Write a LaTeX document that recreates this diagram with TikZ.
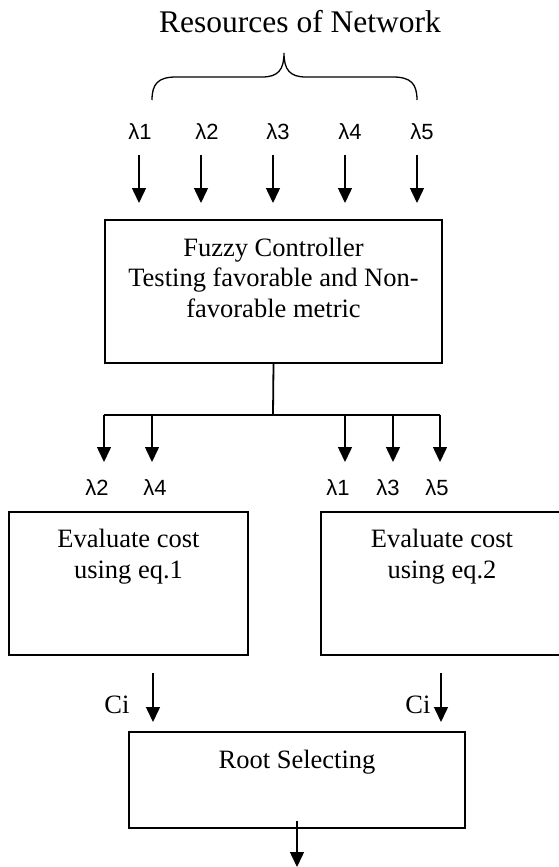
\documentclass[tikz,border=0pt]{standalone}
\usepackage{fontspec}
\setmainfont{Liberation Serif}
\newfontfamily\lamfont{Liberation Sans}
\usetikzlibrary{arrows.meta}
\begin{document}
\begin{tikzpicture}[x=1pt,y=-1pt,
  box/.style={draw,line width=1.8pt,inner sep=0pt,rectangle},
  txt/.style={font=\fontsize{26.5}{30.5}\selectfont,anchor=base,inner sep=0pt},
  lam/.style={font=\lamfont\fontsize{22}{26}\selectfont,anchor=base,inner sep=0pt},
  flow/.style={line width=1.5pt,-{Triangle[length=15pt,width=14pt]}},
  wire/.style={line width=1.8pt}]
\useasboundingbox (0,0) rectangle (559,867);
\clip (0,0) rectangle (559,867);

% heading and brace over the inputs
\node[font=\fontsize{31.5}{36}\selectfont,anchor=base,inner sep=0pt] (title) at (300,33) {Resources of Network};
\draw[line width=1.3pt] (152,100) .. controls (152,84) and (158,77) .. (176,77) -- (262,77)
  .. controls (278,77) and (284,70) .. (284,53)
  .. controls (284,70) and (290,77) .. (306,77) -- (393,77)
  .. controls (411,77) and (417,84) .. (417,100);

% resource inputs
\node[lam] (l1) at (140,139) {λ1};
\node[lam] (l2) at (207,139) {λ2};
\node[lam] (l3) at (278,139) {λ3};
\node[lam] (l4) at (350,139) {λ4};
\node[lam] (l5) at (422,139) {λ5};
\foreach \i/\x in {1/139,2/201,3/273,4/345,5/417}{
  \coordinate (in\i s) at (\x,155);
  \coordinate (in\i e) at (\x,203);
  \draw[flow] (in\i s) -- (in\i e);
}

% fuzzy controller
\node[box,minimum width=337pt,minimum height=143pt] (fuzzy) at (273.5,291.5) {};
\node[txt] (fz1) at (273.5,256) {Fuzzy Controller};
\node[txt] (fz2) at (273.5,286.5) {Testing favorable and Non-};
\node[txt] (fz3) at (273.5,317) {favorable metric};

% split into the two groups
\coordinate (split) at (273,415);
\coordinate (busL) at (104,415);
\coordinate (busR) at (440,415);
\draw[wire] (fuzzy.south) -- (split);
\draw[wire] (busL) -- (busR);
\foreach \i/\x in {2/104,4/152,1/345,3/393,5/440}{
  \coordinate (out\i s) at (\x,415);
  \coordinate (out\i e) at (\x,462);
  \draw[flow] (out\i s) -- (out\i e);
}
\node[lam] (m2) at (97,495) {λ2};
\node[lam] (m4) at (155,495) {λ4};
\node[lam] (m1) at (338,495) {λ1};
\node[lam] (m3) at (388,495) {λ3};
\node[lam] (m5) at (437,495) {λ5};

% cost evaluation
\node[box,minimum width=239pt,minimum height=143pt] (evA) at (128.5,583.5) {};
\node[txt] (evA1) at (128.5,547.5) {Evaluate cost};
\node[txt] (evA2) at (128.5,578) {using eq.1};
\node[box,minimum width=242pt,minimum height=143pt] (evB) at (442,583.5) {};
\node[txt] (evB1) at (442,547.5) {Evaluate cost};
\node[txt] (evB2) at (442,578) {using eq.2};

% costs to the selector
\coordinate (ciAs) at (153,673);
\coordinate (ciAe) at (153,722);
\coordinate (ciBs) at (441,673);
\coordinate (ciBe) at (441,722);
\draw[flow] (ciAs) -- (ciAe);
\draw[flow] (ciBs) -- (ciBe);
\node[txt] (ciA) at (117,713) {Ci};
\node[txt] (ciB) at (418,713) {Ci};

% root selection
\node[box,minimum width=336pt,minimum height=96pt] (root) at (297,780) {};
\node[txt] (rs) at (297,768) {Root Selecting};
\coordinate (outS) at (297,821);
\coordinate (outE) at (297,867);
\draw[flow] (outS) -- (outE);
\end{tikzpicture}
\end{document}
